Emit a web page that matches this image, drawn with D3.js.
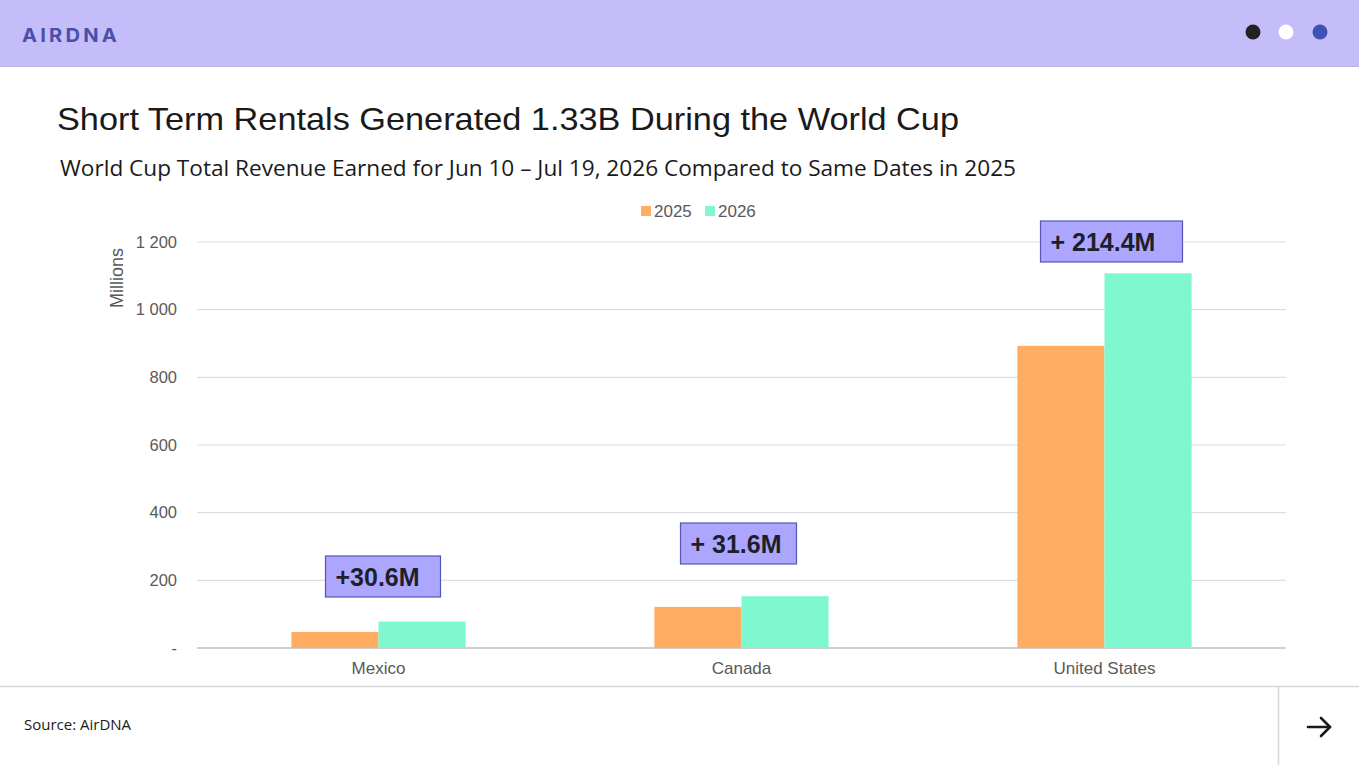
<!DOCTYPE html>
<html><head><meta charset="utf-8">
<script src="https://cdn.jsdelivr.net/npm/d3@7/dist/d3.min.js"></script>
<style>html,body{margin:0;padding:0;background:#fff;}svg{display:block;}</style>
</head><body>
<svg id="c" width="1359" height="765"></svg>
<script>
const categories = ["Mexico", "Canada", "United States"];
const seriesNames = ["2025", "2026"];
const values2025 = [47.5, 121.5, 893];
const values2026 = [78.1, 153.1, 1107.4];
const annotations = ["+30.6M", "+ 31.6M", "+ 214.4M"];
const yTicks = [0, 200, 400, 600, 800, 1000, 1200];
const yTickLabels = ["-", "200", "400", "600", "800", "1 000", "1 200"];
const colors = ["#ffad62", "#7ff7cf"];

const svg = d3.select("#c");
const W = 1359, H = 765;
const SANS = "'Liberation Sans', Arial, sans-serif";

// header
svg.append("rect").attr("x",0).attr("y",0).attr("width",W).attr("height",66).attr("fill","#c5bdfa");
svg.append("line").attr("x1",0).attr("x2",W).attr("y1",66.5).attr("y2",66.5).attr("stroke","#b9b4d6").attr("stroke-width",1);
svg.append("text").attr("x",22).attr("y",42).text("AIRDNA")
  .attr("font-family","Inter, 'DejaVu Sans', sans-serif").attr("font-weight",700)
  .attr("font-size",19).attr("letter-spacing",3).attr("fill","#4a4fa8")
  .attr("textLength",98).attr("lengthAdjust","spacingAndGlyphs");
[["#222222",1253],["#ffffff",1286],["#3f51b5",1320]].forEach(([c,x])=>{
  svg.append("circle").attr("cx",x).attr("cy",32).attr("r",7.5).attr("fill",c);
});

// titles
svg.append("text").attr("x",57).attr("y",130).text("Short Term Rentals Generated 1.33B During the World Cup")
  .attr("font-family",SANS).attr("font-size",32).attr("fill","#1a1a1a")
  .attr("textLength",902).attr("lengthAdjust","spacingAndGlyphs");
svg.append("text").attr("x",60).attr("y",176).text("World Cup Total Revenue Earned for Jun 10 \u2013 Jul 19, 2026 Compared to Same Dates in 2025")
  .attr("font-family","'Open Sans', 'Noto Sans', sans-serif").attr("font-size",22).attr("fill","#1a1a1a")
  .attr("textLength",956).attr("lengthAdjust","spacingAndGlyphs");

// chart
const x0 = 197, x1 = 1286, yTop = 242, yBot = 648;
const x = d3.scaleBand().domain(categories).range([x0,x1]).paddingInner(0.52).paddingOuter(0.26);
const xs = d3.scaleBand().domain(seriesNames).range([0,x.bandwidth()]);
const y = d3.scaleLinear().domain([0,1200]).range([yBot,yTop]);

const grid = svg.append("g");
yTicks.forEach((t,i)=>{
  grid.append("line").attr("x1",x0).attr("x2",x1).attr("y1",y(t)).attr("y2",y(t))
    .attr("stroke", t===0 ? "#d0d0d0" : "#dedede").attr("stroke-width", t===0?2:1.2);
  svg.append("text").attr("x",177).attr("y",y(t)).attr("dy","0.35em").attr("text-anchor","end")
    .text(yTickLabels[i]).attr("font-family",SANS)
    .attr("font-size",16.5).attr("fill","#595959");
});

svg.append("text").attr("transform",`translate(123,278) rotate(-90)`).attr("text-anchor","middle")
  .text("Millions").attr("font-family",SANS).attr("font-size",18).attr("fill","#595959");

const data = categories.map((c,i)=>({c, v:[values2025[i], values2026[i]], a:annotations[i]}));
const g = svg.append("g");
data.forEach(d=>{
  seriesNames.forEach((s,j)=>{
    g.append("rect").attr("x",x(d.c)+xs(s)).attr("width",xs.bandwidth())
      .attr("y",y(d.v[j])).attr("height",yBot - y(d.v[j])).attr("fill",colors[j]);
  });
  svg.append("text").attr("x",x(d.c)+x.bandwidth()/2).attr("y",668).attr("dy","0.35em")
    .attr("text-anchor","middle").text(d.c).attr("font-family",SANS)
    .attr("font-size",17).attr("fill","#595959");
});

// annotations
const annoBoxes = [
  {w:115, top:556, dx:-53},
  {w:116, top:523, dx:-61},
  {w:142, top:221, dx:-64}
];
data.forEach((d,i)=>{
  const b = annoBoxes[i];
  const bx = x(d.c)+x.bandwidth()/2 + b.dx;
  svg.append("rect").attr("x",bx).attr("y",b.top).attr("width",b.w).attr("height",41)
    .attr("fill","#aca6ff").attr("stroke","#5555b8").attr("stroke-width",1.2);
  svg.append("text").attr("x",bx+10).attr("y",b.top+20.5).attr("dy","0.36em").text(d.a)
    .attr("font-family",SANS).attr("font-weight",700)
    .attr("font-size",25).attr("fill","#1f1f2b");
});

// legend
const leg = svg.append("g");
[[641,"2025"],[705,"2026"]].forEach(([lx,t],j)=>{
  leg.append("rect").attr("x",lx).attr("y",206).attr("width",10).attr("height",10).attr("fill",colors[j]);
  leg.append("text").attr("x",lx+13).attr("y",211).attr("dy","0.36em").text(t)
    .attr("font-family",SANS).attr("font-size",17).attr("fill","#595959");
});

// footer
svg.append("line").attr("x1",0).attr("x2",W).attr("y1",686.5).attr("y2",686.5).attr("stroke","#d6d6d6").attr("stroke-width",1.5);
svg.append("line").attr("x1",1278.5).attr("x2",1278.5).attr("y1",687).attr("y2",H).attr("stroke","#d6d6d6").attr("stroke-width",1.5);
svg.append("text").attr("x",24).attr("y",725).attr("dy","0.35em").text("Source: AirDNA")
  .attr("font-family","'Open Sans', 'Noto Sans', sans-serif").attr("font-size",15).attr("fill","#1a1a1a");
const ar = svg.append("g").attr("stroke","#1a1a1a").attr("stroke-width",2.6).attr("fill","none").attr("stroke-linecap","round").attr("stroke-linejoin","round");
ar.append("line").attr("x1",1308).attr("x2",1330).attr("y1",727).attr("y2",727);
ar.append("polyline").attr("points","1321,718 1330,727 1321,736");
</script>
</body></html>
